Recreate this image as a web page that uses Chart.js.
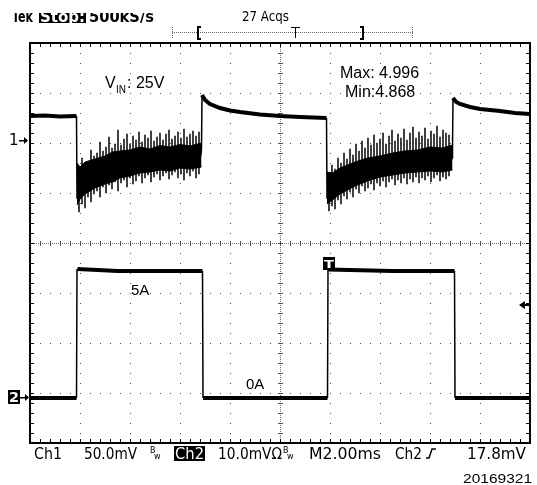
<!DOCTYPE html>
<html>
<head>
<meta charset="utf-8">
<script src="https://cdn.jsdelivr.net/npm/chart.js@4.4.0/dist/chart.umd.min.js"></script>
<style>
  body { margin: 0; background: #fff; }
  canvas { display: block; }
</style>
</head>
<body>
<canvas id="scope" width="537" height="485"></canvas>
<script>
// time in ms (2 ms/div, 10 div); level in divisions from screen centre (8 div tall)
const ch1Time  = [0, 0.6, 1.2, 1.86, 1.88, 1.9, 6.84, 6.86, 6.88, 7.0, 7.2, 7.6, 8.0, 8.4, 9.2, 10.0, 10.8, 11.86,
                  11.88, 11.9, 16.88, 16.9, 16.92, 17.05, 17.2, 17.6, 18.0, 18.8, 19.4, 20];
const ch1Level = [2.54, 2.55, 2.53, 2.54, 0.9, 1.2, 1.76, 1.9, 2.96, 2.86, 2.78, 2.70, 2.65, 2.62, 2.57, 2.54, 2.52, 2.50,
                  0.9, 1.1, 1.70, 1.9, 2.90, 2.82, 2.78, 2.72, 2.68, 2.64, 2.60, 2.58];

const ch2Time  = [0, 1.86, 1.88, 1.9, 3.5, 6.9, 6.92, 11.9, 11.92, 11.94, 14.5, 16.98, 17.0, 20];
const ch2Level = [-3.10, -3.10, -0.54, -0.52, -0.56, -0.56, -3.10, -3.10, -0.54, -0.53, -0.56, -0.56, -3.10, -3.10];

// ripple band (dense core) during each load step
const band1Time   = [1.88, 2.0, 2.2, 2.6, 3.0, 3.3, 3.6, 4.0, 4.4, 4.8, 5.2, 5.6, 6.0, 6.4, 6.86];
const band1Top    = [1.60, 1.52, 1.62, 1.68, 1.74, 1.82, 1.84, 1.86, 1.92, 1.88, 1.95, 1.92, 1.97, 1.94, 2.00];
const band1Bottom = [0.76, 0.88, 0.98, 1.10, 1.18, 1.22, 1.30, 1.34, 1.40, 1.42, 1.46, 1.44, 1.50, 1.48, 1.52];
const band2Time   = [11.88, 12.1, 12.4, 12.7, 13.0, 13.5, 14.0, 14.5, 15.0, 15.5, 16.0, 16.5, 16.9];
const band2Top    = [1.42, 1.40, 1.50, 1.56, 1.62, 1.70, 1.74, 1.80, 1.84, 1.86, 1.92, 1.90, 1.96];
const band2Bottom = [0.78, 0.86, 0.98, 1.06, 1.14, 1.24, 1.32, 1.36, 1.40, 1.42, 1.44, 1.42, 1.46];

// switching spikes sticking out of the band
const spikeTime = [1.96, 2.08, 2.20, 2.32, 2.44, 2.56, 2.68, 2.80, 2.92, 3.04, 3.16, 3.28, 3.40, 3.52,
  3.64, 3.76, 3.88, 4.00, 4.12, 4.24, 4.36, 4.48, 4.60, 4.72, 4.84, 4.96, 5.08, 5.20, 5.32, 5.44,
  5.56, 5.68, 5.80, 5.92, 6.04, 6.16, 6.28, 6.40, 6.52, 6.64, 6.76,
  11.96, 12.08, 12.20, 12.32, 12.44, 12.56, 12.68, 12.80, 12.92, 13.04, 13.16, 13.28, 13.40, 13.52,
  13.64, 13.76, 13.88, 14.00, 14.12, 14.24, 14.36, 14.48, 14.60, 14.72, 14.84, 14.96, 15.08, 15.20,
  15.32, 15.44, 15.56, 15.68, 15.80, 15.92, 16.04, 16.16, 16.28, 16.40, 16.52, 16.64, 16.76];
const spikeLow = [0.62, 0.78, 0.70, 0.92, 0.82, 0.98, 1.04, 0.92, 1.12, 1.00, 1.16, 1.08, 1.22, 1.04,
  1.20, 1.26, 1.12, 1.30, 1.18, 1.24, 1.34, 1.20, 1.30, 1.36, 1.22, 1.32, 1.38, 1.26, 1.34, 1.40,
  1.28, 1.36, 1.42, 1.30, 1.38, 1.26, 1.40, 1.34, 1.44, 1.30, 1.38,
  0.64, 0.74, 0.68, 0.86, 0.78, 0.94, 0.88, 1.02, 0.92, 1.08, 1.00, 1.14, 1.04, 1.10,
  1.18, 1.06, 1.20, 1.14, 1.24, 1.12, 1.22, 1.28, 1.16, 1.26, 1.20, 1.30, 1.18, 1.28,
  1.22, 1.32, 1.20, 1.30, 1.26, 1.34, 1.22, 1.30, 1.36, 1.24, 1.32, 1.28, 1.34];
const spikeHigh = [1.48, 1.70, 1.56, 1.62, 1.86, 1.74, 1.80, 2.02, 1.84, 1.92, 2.12, 1.90, 1.98, 2.26,
  1.96, 2.08, 2.18, 1.98, 2.14, 2.06, 2.22, 2.02, 2.16, 2.10, 2.24, 2.04, 2.12, 2.20, 2.06, 2.18,
  2.26, 2.08, 2.14, 2.22, 2.10, 2.28, 2.12, 2.18, 2.24, 2.14, 2.22,
  1.36, 1.56, 1.48, 1.70, 1.60, 1.80, 1.68, 1.88, 1.76, 1.98, 1.84, 2.04, 1.90, 2.10,
  1.96, 2.16, 2.00, 2.08, 2.20, 1.98, 2.14, 2.26, 2.04, 2.18, 2.10, 2.28, 2.06, 2.20,
  2.32, 2.10, 2.22, 2.14, 2.30, 2.08, 2.24, 2.18, 2.34, 2.12, 2.26, 2.20, 2.16];

const xMajor = [2, 4, 6, 8, 12, 14, 16, 18];
const yMajor = [-3, -2, -1, 1, 2, 3];

const pts = (xs, ys) => xs.map((t, i) => ({ x: t, y: ys[i] }));

// thin vertical edges, thick flat parts
const edgeWidth = (thick) => ctx =>
  Math.abs(ctx.p1.parsed.x - ctx.p0.parsed.x) < 0.05 ? 1.5 : thick;

const graticule = {
  id: "graticule",
  beforeDatasetsDraw(chart) {
    const { ctx, chartArea: a, scales: { x, y } } = chart;
    ctx.save();
    ctx.fillStyle = "#505050";
    // major lines: one dot per minor division
    xMajor.forEach(t => {
      const px = Math.round(x.getPixelForValue(t));
      for (let py = a.top; py <= a.bottom; py += 10) ctx.fillRect(px, py, 1, 1);
    });
    yMajor.forEach(v => {
      const py = Math.round(y.getPixelForValue(v));
      for (let px = a.left; px <= a.right; px += 10) ctx.fillRect(px, py, 1, 1);
    });
    // centre cross: fine dots plus minor ticks
    const cx = Math.round(x.getPixelForValue(10));
    const cy = Math.round(y.getPixelForValue(0));
    ctx.fillStyle = "#707070";
    for (let px = a.left; px <= a.right; px += 2) ctx.fillRect(px, cy, 1, 1);
    for (let py = a.top; py <= a.bottom; py += 2) ctx.fillRect(cx, py, 1, 1);
    ctx.fillStyle = "#505050";
    for (let px = a.left; px <= a.right; px += 10) ctx.fillRect(px, cy - 2, 1, 5);
    for (let py = a.top; py <= a.bottom; py += 10) ctx.fillRect(cx - 2, py, 5, 1);
    ctx.restore();
  },
  afterDatasetsDraw(chart) {
    const { ctx, chartArea: a } = chart;
    ctx.save();
    ctx.fillStyle = "#000";
    for (let px = a.left; px <= a.right; px += 10) {
      ctx.fillRect(px, a.top, 1, 4);
      ctx.fillRect(px, a.bottom - 4, 1, 4);
    }
    for (let py = a.top; py <= a.bottom; py += 10) {
      ctx.fillRect(a.left, py, 4, 1);
      ctx.fillRect(a.right - 4, py, 4, 1);
    }
    ctx.strokeStyle = "#000";
    ctx.lineWidth = 2;
    ctx.strokeRect(a.left, a.top, a.right - a.left, a.bottom - a.top);
    ctx.restore();
  }
};

function fitText(ctx, s, x, base, w) {
  const m = ctx.measureText(s).width;
  ctx.save();
  ctx.translate(x, base);
  ctx.scale(w / m, 1);
  ctx.fillText(s, 0, 0);
  ctx.restore();
}

function invBox(ctx, s, x0, y0, x1, y1, base) {
  ctx.fillStyle = "#000";
  ctx.fillRect(x0, y0, x1 - x0, y1 - y0);
  ctx.fillStyle = "#fff";
  fitText(ctx, s, x0 + 1, base, x1 - x0 - 2);
  ctx.fillStyle = "#000";
}

const labels = {
  id: "labels",
  afterDraw(chart) {
    const { ctx, scales: { x, y } } = chart;
    ctx.save();
    ctx.textBaseline = "alphabetic";
    ctx.fillStyle = "#000";

    // status line, top of screen is cut off
    ctx.save();
    ctx.beginPath();
    ctx.rect(0, 13, 537, 30);
    ctx.clip();
    ctx.font = "bold 16px 'DejaVu Sans'";
    fitText(ctx, "Tek", 12, 22, 21);
    invBox(ctx, "Stop:", 39, 8, 86, 23, 22);
    fitText(ctx, "500kS/s", 89, 22, 65);
    ctx.restore();
    ctx.font = "14px 'DejaVu Sans'";
    fitText(ctx, "27 Acqs", 242, 21, 47);

    // record / trigger position bar
    ctx.fillStyle = "#666";
    for (let px = 172; px <= 412; px += 2) ctx.fillRect(px, 32, 1, 1);
    for (let py = 27; py <= 37; py += 2) { ctx.fillRect(172, py, 1, 1); ctx.fillRect(412, py, 1, 1); }
    ctx.fillStyle = "#000";
    ctx.fillRect(197, 26, 2, 14); ctx.fillRect(197, 26, 4, 2); ctx.fillRect(197, 38, 4, 2);
    ctx.fillRect(362, 26, 2, 14); ctx.fillRect(360, 26, 4, 2); ctx.fillRect(360, 38, 4, 2);
    ctx.fillRect(291, 27, 9, 1); ctx.fillRect(295, 27, 1, 11);

    // channel markers
    ctx.font = "15px 'DejaVu Sans'";
    const y1 = y.getPixelForValue(2.06);
    ctx.fillText("1", 9, y1 + 5);
    ctx.fillRect(19, Math.round(y1), 8, 1.5);
    ctx.beginPath(); ctx.moveTo(28, y1 + 0.5); ctx.lineTo(24, y1 - 3); ctx.lineTo(24, y1 + 4); ctx.fill();
    const y2 = y.getPixelForValue(-3.08);
    ctx.font = "bold 14px 'DejaVu Sans'";
    invBox(ctx, "2", 8, y2 - 7, 20, y2 + 7, y2 + 5);
    ctx.fillRect(20, Math.round(y2), 7, 1.5);
    ctx.beginPath(); ctx.moveTo(29, y2 + 0.5); ctx.lineTo(25, y2 - 3); ctx.lineTo(25, y2 + 4); ctx.fill();

    // trigger level arrow (right) and trigger point marker
    const yt = y.getPixelForValue(-1.24);
    ctx.fillRect(523, Math.round(yt) - 1, 8, 2);
    ctx.beginPath(); ctx.moveTo(519, yt); ctx.lineTo(525, yt - 4); ctx.lineTo(525, yt + 4); ctx.fill();
    const xt = x.getPixelForValue(11.96), ytm = y.getPixelForValue(-0.42);
    ctx.font = "bold 11px 'DejaVu Sans'";
    invBox(ctx, "T", xt - 6, ytm - 7, xt + 6, ytm + 6, ytm + 4);

    // annotations
    ctx.fillStyle = "#000";
    ctx.font = "16px 'Liberation Sans'";
    ctx.fillText("V", 105, 88);
    ctx.fillText(": 25V", 127, 88);
    ctx.font = "10px 'Liberation Sans'";
    ctx.fillText("IN", 116, 93);
    ctx.font = "16px 'Liberation Sans'";
    ctx.fillText("Max: 4.996", 340, 78);
    ctx.fillText("Min:4.868", 345, 97);
    ctx.font = "15px 'Liberation Sans'";
    ctx.fillText("5A", 131, 295);
    ctx.fillText("0A", 246, 389);

    // bottom readout
    ctx.font = "16px 'DejaVu Sans'";
    fitText(ctx, "Ch1", 34, 459, 28);
    fitText(ctx, "50.0mV", 84, 459, 53);
    invBox(ctx, "Ch2", 174, 446, 205, 461, 459);
    fitText(ctx, "10.0mVΩ", 218, 459, 64);
    fitText(ctx, "M2.00ms", 309, 459, 72);
    fitText(ctx, "Ch2", 395, 459, 27);
    fitText(ctx, "17.8mV", 467, 459, 59);
    ctx.font = "8px 'DejaVu Sans'";
    ctx.fillText("B", 150, 453); ctx.fillText("w", 154, 459);
    ctx.fillText("B", 283, 453); ctx.fillText("w", 287, 459);
    ctx.lineWidth = 1.5;
    ctx.beginPath();
    ctx.moveTo(426, 458); ctx.lineTo(429, 458); ctx.lineTo(432, 449); ctx.lineTo(436, 449);
    ctx.stroke();

    ctx.font = "12px 'Liberation Sans'";
    fitText(ctx, "20169321", 463, 483, 69);
    ctx.restore();
  }
};

new Chart(document.getElementById("scope"), {
  type: "line",
  data: {
    datasets: [
      {
        data: pts(band1Time, band1Top),
        borderColor: "#000", backgroundColor: "#000", borderWidth: 1,
        fill: "+1", pointRadius: 0
      },
      {
        data: pts(band1Time, band1Bottom),
        borderColor: "#000", borderWidth: 1, pointRadius: 0
      },
      {
        data: pts(band2Time, band2Top),
        borderColor: "#000", backgroundColor: "#000", borderWidth: 1,
        fill: "+1", pointRadius: 0
      },
      {
        data: pts(band2Time, band2Bottom),
        borderColor: "#000", borderWidth: 1, pointRadius: 0
      },
      {
        type: "bar",
        data: spikeTime.map((t, i) => ({ x: t, y: [spikeLow[i], spikeHigh[i]] })),
        backgroundColor: "#1a1a1a", barThickness: 1, borderWidth: 0, grouped: false
      },
      {
        // Ch1 output voltage, 50 mV/div
        data: pts(ch1Time, ch1Level),
        borderColor: "#000", borderWidth: 4, pointRadius: 0,
        segment: { borderWidth: edgeWidth(4) }
      },
      {
        // Ch2 load current
        data: pts(ch2Time, ch2Level),
        borderColor: "#000", borderWidth: 4, pointRadius: 0,
        segment: { borderWidth: edgeWidth(4) }
      }
    ]
  },
  options: {
    responsive: false,
    animation: false,
    layout: { padding: { left: 30, right: 7, top: 43, bottom: 42 } },
    scales: {
      x: { type: "linear", min: 0, max: 20, offset: false, display: false },
      y: { type: "linear", min: -4, max: 4, display: false }
    },
    plugins: {
      legend: { display: false },
      tooltip: { enabled: false }
    }
  },
  plugins: [graticule, labels]
});
</script>
</body>
</html>
